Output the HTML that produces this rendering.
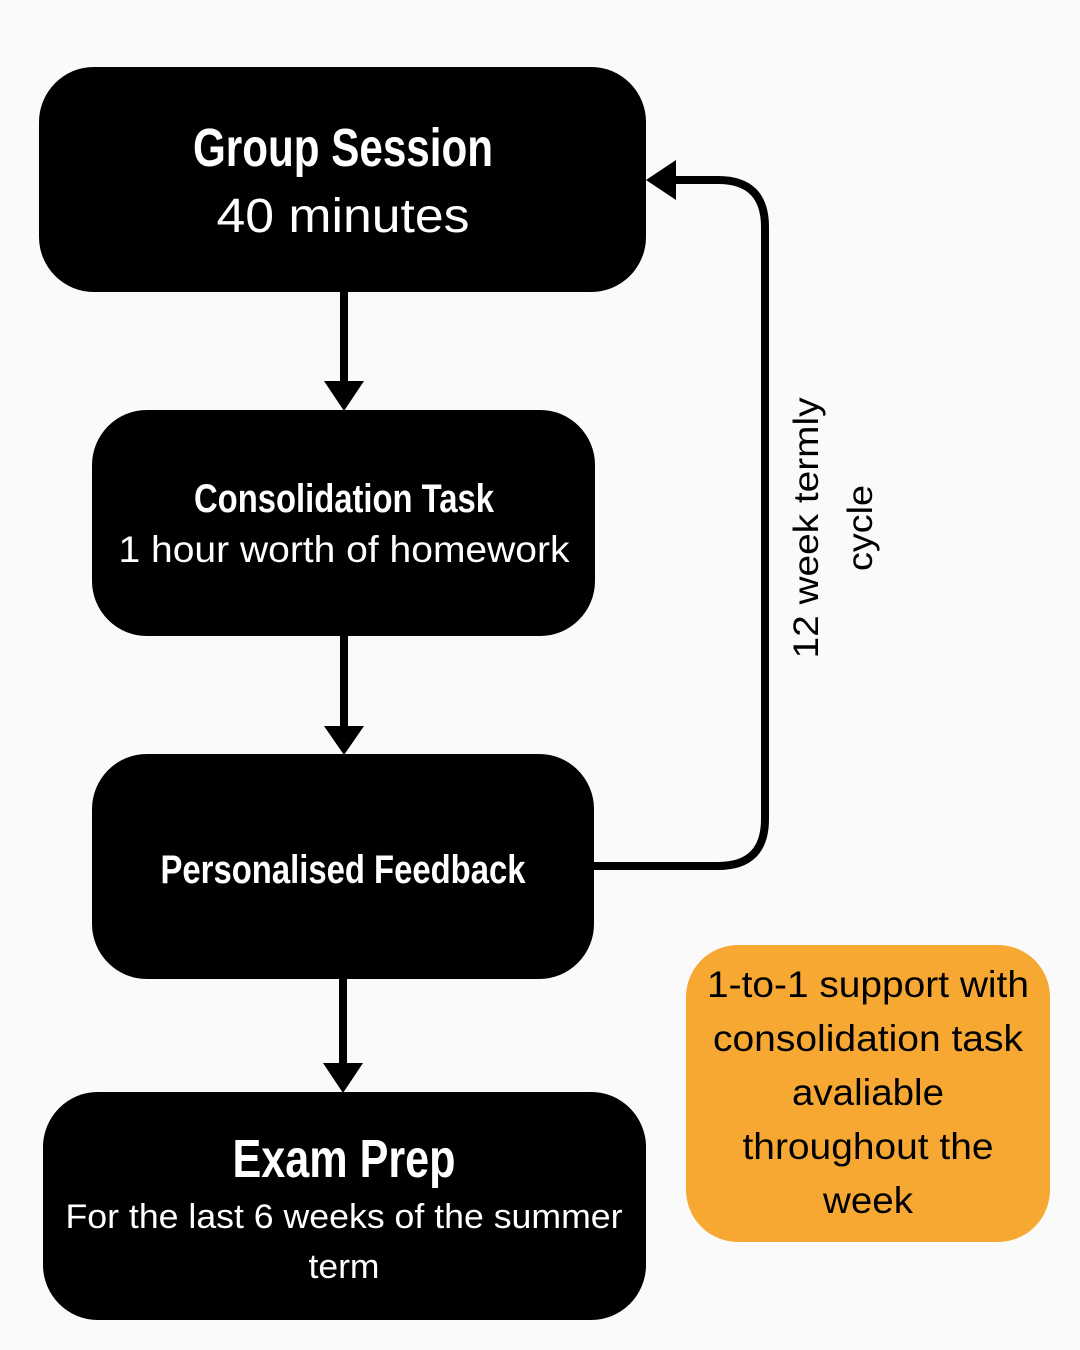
<!DOCTYPE html>
<html><head><meta charset="utf-8"><style>
html,body{margin:0;padding:0;background:#fafafa;}
svg{display:block}
.t{font-family:"Liberation Sans Narrow","Liberation Sans",sans-serif;font-weight:bold;fill:#fff;text-anchor:middle}
.s{font-family:"Liberation Sans",sans-serif;fill:#fff;text-anchor:middle}
.k{font-family:"Liberation Sans",sans-serif;fill:#000;text-anchor:middle}
</style></head><body>
<svg width="1080" height="1350" viewBox="0 0 1080 1350" xmlns="http://www.w3.org/2000/svg">
<rect width="1080" height="1350" fill="#fafafa"/>
<rect x="39" y="67" width="607" height="225" rx="55" fill="#000"/>
<rect x="92" y="410" width="503" height="226" rx="55" fill="#000"/>
<rect x="92" y="754" width="502" height="225" rx="55" fill="#000"/>
<rect x="43" y="1092" width="603" height="228" rx="55" fill="#000"/>
<rect x="686" y="945" width="364" height="297" rx="52" fill="#F7A833"/>
<g stroke="#000" stroke-width="8" fill="none">
<line x1="344" y1="292" x2="344" y2="385"/>
<line x1="344" y1="636" x2="344" y2="730"/>
<line x1="343" y1="979" x2="343" y2="1067"/>
<path d="M594 866 H718 Q765 866 765 819 V227 Q765 180 718 180 H670"/>
</g>
<g fill="#000">
<polygon points="324,381 364,381 344,411"/>
<polygon points="324,726 364,726 344,755"/>
<polygon points="323,1063 363,1063 343,1093"/>
<polygon points="676,160 676,200 646,180"/>
</g>
<text class="t" x="343" y="166" font-size="54" textLength="300" lengthAdjust="spacingAndGlyphs">Group Session</text>
<text class="s" x="343" y="232" font-size="48" textLength="253" lengthAdjust="spacingAndGlyphs">40 minutes</text>
<text class="t" x="344" y="512" font-size="40" textLength="300" lengthAdjust="spacingAndGlyphs">Consolidation Task</text>
<text class="s" x="344" y="562" font-size="37" textLength="451" lengthAdjust="spacingAndGlyphs">1 hour worth of homework</text>
<text class="t" x="343" y="883" font-size="40" textLength="365" lengthAdjust="spacingAndGlyphs">Personalised Feedback</text>
<text class="t" x="344" y="1177" font-size="54" textLength="223" lengthAdjust="spacingAndGlyphs">Exam Prep</text>
<text class="s" x="344" y="1228" font-size="34" textLength="557" lengthAdjust="spacingAndGlyphs">For the last 6 weeks of the summer</text>
<text class="s" x="344" y="1278" font-size="34" textLength="71" lengthAdjust="spacingAndGlyphs">term</text>
<g font-size="37">
<text class="k" x="868" y="997" textLength="322" lengthAdjust="spacingAndGlyphs">1-to-1 support with</text>
<text class="k" x="868" y="1051" textLength="310" lengthAdjust="spacingAndGlyphs">consolidation task</text>
<text class="k" x="868" y="1105" textLength="152" lengthAdjust="spacingAndGlyphs">avaliable</text>
<text class="k" x="868" y="1159" textLength="251" lengthAdjust="spacingAndGlyphs">throughout the</text>
<text class="k" x="868" y="1213" textLength="90" lengthAdjust="spacingAndGlyphs">week</text>
</g>
<g transform="translate(834,528) rotate(-90)" font-size="35">
<text class="k" x="0" y="-16" textLength="261" lengthAdjust="spacingAndGlyphs">12 week termly</text>
<text class="k" x="0" y="38" textLength="86" lengthAdjust="spacingAndGlyphs">cycle</text>
</g>
</svg>
</body></html>
